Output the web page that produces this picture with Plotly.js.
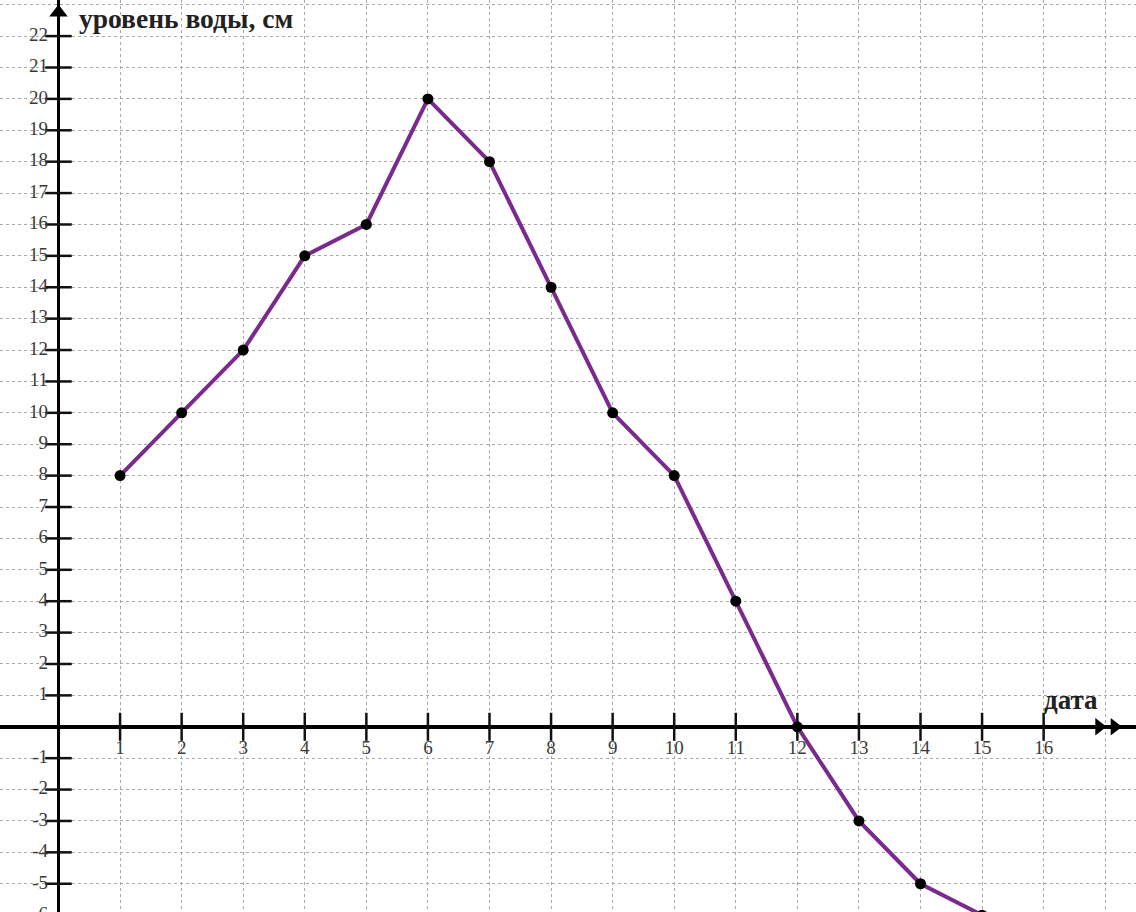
<!DOCTYPE html>
<html><head><meta charset="utf-8">
<script src="https://cdn.plot.ly/plotly-3.0.1.min.js"></script>
<style>html,body{margin:0;padding:0;background:#fff}#c{width:1136px;height:912px}</style>
</head><body><div id="c"></div>
<script>
const days = [1,2,3,4,5,6,7,8,9,10,11,12,13,14,15];
const level = [8,10,12,15,16,20,18,14,10,8,4,0,-3,-5,-6];
const xTicks = [1,2,3,4,5,6,7,8,9,10,11,12,13,14,15,16];
const yTicks = [-6,-5,-4,-3,-2,-1,1,2,3,4,5,6,7,8,9,10,11,12,13,14,15,16,17,18,19,20,21,22];
const yTitle = 'уровень воды, см';
const xTitle = 'дата';

const serif = 'Liberation Serif, Times New Roman, serif';
const traces = [
  {x: yTicks.map(()=>0), y: yTicks, mode:'markers', marker:{symbol:'line-ew', size:19, line:{width:2.5, color:'#111'}}, hoverinfo:'skip'},
  {x: xTicks, y: xTicks.map(()=>0), mode:'markers', marker:{symbol:'line-ns', size:20, line:{width:2.5, color:'#111'}}, hoverinfo:'skip'},
  {x: yTicks.map(()=>-0.17), y: yTicks, mode:'text', text: yTicks.map(String), textposition:'middle left', textfont:{family:serif, size:19, color:'#3a3a3a'}, hoverinfo:'skip'},
  {x: xTicks, y: xTicks.map(()=>-0.72), mode:'text', text: xTicks.map(String), textposition:'middle center', textfont:{family:serif, size:19, color:'#3a3a3a'}, hoverinfo:'skip'},
  {x: days, y: level, mode:'lines+markers', line:{color:'#7a2a8c', width:4}, marker:{color:'#000', size:11}},
  {x:[0], y:[22.75], mode:'markers', marker:{symbol:'triangle-up', size:16, color:'#000'}, hoverinfo:'skip'},
  {x:[16.9, 17.15], y:[0,0], mode:'markers', marker:{symbol:'triangle-right', size:15, color:'#000'}, hoverinfo:'skip'}
];
const layout = {
  width:1136, height:912, margin:{l:0,r:0,t:0,b:0},
  showlegend:false, paper_bgcolor:'#fff', plot_bgcolor:'#fff',
  xaxis:{range:[-0.95,17.5], dtick:1, tick0:0, showticklabels:false, ticks:'', showgrid:true, gridcolor:'#a8a8a8', griddash:'dot', gridwidth:1, zeroline:true, zerolinecolor:'#000', zerolinewidth:3.5, showline:false, fixedrange:true},
  yaxis:{range:[-5.9,23.15], dtick:1, tick0:0, showticklabels:false, ticks:'', showgrid:true, gridcolor:'#a8a8a8', griddash:'dot', gridwidth:1, zeroline:true, zerolinecolor:'#000', zerolinewidth:3.5, showline:false, fixedrange:true},
  annotations:[
    {x:0.3, y:22.55, xref:'x', yref:'y', text:'<b>'+yTitle+'</b>', showarrow:false, xanchor:'left', yanchor:'middle', font:{family:serif, size:27.5, color:'#222'}},
    {x:16.92, y:0.85, xref:'x', yref:'y', text:'<b>'+xTitle+'</b>', showarrow:false, xanchor:'right', yanchor:'middle', font:{family:serif, size:27, color:'#222'}}
  ]
};
Plotly.newPlot('c', traces, layout, {displayModeBar:false, staticPlot:true});
</script></body></html>
